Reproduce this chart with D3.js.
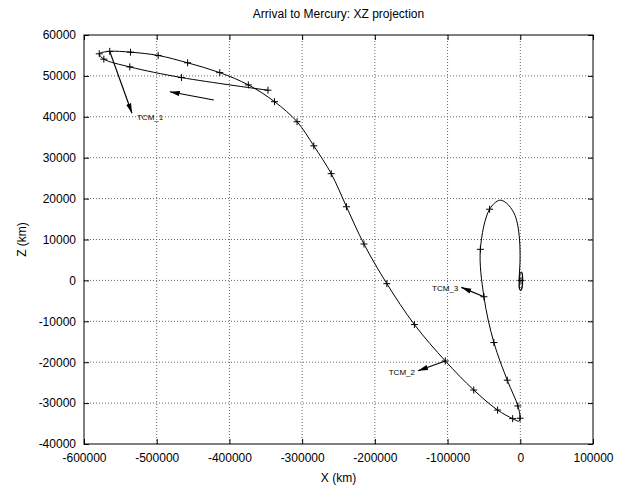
<!DOCTYPE html>
<html>
<head>
<meta charset="utf-8">
<script src="https://cdn.jsdelivr.net/npm/d3@7"></script>
<style>
  body { margin: 0; background: #fff; }
  svg text { font-family: "Liberation Sans", Arial, sans-serif; fill: #000; }
</style>
</head>
<body>
<div class="xz_area"></div>
<script>
// trajectory, in km (X, Z)
var pathX = [-347000, -466000, -537000, -572700, -579000, -564600, -536000, -498000, -457500, -413300,
             -374000, -338000, -307000, -284000, -260000, -239000, -215000, -183500, -145600, -103100,
             -64000, -31200, -10500, -2000, -300, -3300, -17900, -36300, -50000, -54900,
             -42200, -28500, -19000, -8800, -4100, -1000, -300, -1200, -1600, -900,
             1000, 2900, 3300, 1800, -300, -1300, -500, 1600, 3000, 2300, 600];
var pathZ = [46500, 49600, 52200, 54100, 55400, 56000, 55800, 55000, 53200, 50800,
             47800, 43700, 38800, 32900, 26100, 18000, 8900, -800, -10800, -19700,
             -26800, -31700, -33800, -34400, -33700, -30700, -24400, -15200, -4000, 7600,
             17400, 19600, 18900, 16500, 14000, 9900, 5000, 1800, 0, -2200,
             -2500, -1200, 800, 2100, 1600, -500, -2300, -2100, -300, 1700, 2000];

// "+" marks along the trajectory
var markX = [-347000, -466000, -537000, -572700, -579000, -564600, -536000, -498000, -457500, -413300,
             -374000, -338000, -307000, -284000, -260000, -239000, -215000, -183500, -145600, -103100,
             -64000, -31200, -10500, -300, -3300, -17900, -36300, -50000, -54900, -42200, 1000];
var markZ = [46500, 49600, 52200, 54100, 55400, 56000, 55800, 55000, 53200, 50800,
             47800, 43700, 38800, 32900, 26100, 18000, 8900, -800, -10800, -19700,
             -26800, -31700, -33800, -33700, -30700, -24400, -15200, -4000, 7600, 17400, 0];

// manoeuvre arrows
var arrowLabel = ["TCM_1", "", "TCM_2", "TCM_3"];
var arrowX0 = [-564600, -421500, -103100, -50000];
var arrowZ0 = [56000, 44100, -19700, -4000];
var arrowX1 = [-534000, -482000, -140700, -81100];
var arrowZ1 = [40850, 46130, -22100, -1700];

var xTicks = [-600000, -500000, -400000, -300000, -200000, -100000, 0, 100000];
var zTicks = [-40000, -30000, -20000, -10000, 0, 10000, 20000, 30000, 40000, 50000, 60000];

var W = 630, H = 486;
var margin = {top: 35, right: 37, bottom: 42, left: 84},
    width = W - margin.left - margin.right,
    height = H - margin.top - margin.bottom;

var svg = d3.select(".xz_area").append("svg")
    .attr("width", W)
    .attr("height", H);

var defs = svg.append("defs");
defs.append("marker")
    .attr("id", "head")
    .attr("markerUnits", "userSpaceOnUse")
    .attr("viewBox", "0 -4 10 8")
    .attr("refX", 10).attr("refY", 0)
    .attr("markerWidth", 10).attr("markerHeight", 8)
    .attr("orient", "auto")
  .append("path")
    .attr("d", "M0,-2.6L10,0L0,2.6Z")
    .attr("fill", "#000");

var g = svg.append("g")
    .attr("transform", "translate(" + margin.left + "," + margin.top + ")");

var x = d3.scaleLinear().domain([-600000, 100000]).range([0, width]);
var y = d3.scaleLinear().domain([-40000, 60000]).range([height, 0]);

// grid
g.append("g").selectAll("line")
    .data(xTicks.slice(1, -1))
    .enter().append("line")
    .attr("x1", function(d) { return x(d); })
    .attr("x2", function(d) { return x(d); })
    .attr("y1", 0).attr("y2", height)
    .attr("stroke", "#666").attr("stroke-dasharray", "1,2");
g.append("g").selectAll("line")
    .data(zTicks.slice(1, -1))
    .enter().append("line")
    .attr("y1", function(d) { return y(d); })
    .attr("y2", function(d) { return y(d); })
    .attr("x1", 0).attr("x2", width)
    .attr("stroke", "#666").attr("stroke-dasharray", "1,2");

// axes (ticks inside, mirrored)
var fmt = function(d) { return String(d); };
var xAxis = g.append("g")
    .attr("transform", "translate(0," + height + ")")
    .call(d3.axisBottom(x).tickValues(xTicks).tickFormat(fmt).tickSize(-5).tickSizeOuter(0).tickPadding(9));
var xTop = g.append("g")
    .call(d3.axisTop(x).tickValues(xTicks).tickFormat("").tickSize(-5).tickSizeOuter(0));
var yAxis = g.append("g")
    .call(d3.axisLeft(y).tickValues(zTicks).tickFormat(fmt).tickSize(-5).tickSizeOuter(0).tickPadding(8));
var yRight = g.append("g")
    .attr("transform", "translate(" + width + ",0)")
    .call(d3.axisRight(y).tickValues(zTicks).tickFormat("").tickSize(-5).tickSizeOuter(0));

g.selectAll(".domain").remove();
g.selectAll(".tick line").attr("stroke", "#000");
g.selectAll(".tick text").style("font-size", "12px");

g.append("rect")
    .attr("width", width).attr("height", height)
    .attr("fill", "none").attr("stroke", "#000").attr("stroke-width", 1);

// trajectory
var pts = pathX.map(function(d, i) { return [d, pathZ[i]]; });
var line = d3.line()
    .x(function(d) { return x(d[0]); })
    .y(function(d) { return y(d[1]); })
    .curve(d3.curveCatmullRom.alpha(0.5));

g.append("path")
    .datum(pts)
    .attr("d", line)
    .attr("fill", "none")
    .attr("stroke", "#000")
    .attr("stroke-width", 1);

var marks = markX.map(function(d, i) { return [d, markZ[i]]; });
g.append("g").selectAll("path")
    .data(marks)
    .enter().append("path")
    .attr("d", function(d) {
        var px = x(d[0]), py = y(d[1]);
        return "M" + (px - 3.5) + "," + py + "H" + (px + 3.5) + "M" + px + "," + (py - 3.5) + "V" + (py + 3.5);
    })
    .attr("stroke", "#000")
    .attr("stroke-width", 1);

// arrows
var arrows = arrowLabel.map(function(d, i) {
    return {label: d, x0: arrowX0[i], z0: arrowZ0[i], x1: arrowX1[i], z1: arrowZ1[i]};
});
g.append("g").selectAll("line")
    .data(arrows)
    .enter().append("line")
    .attr("x1", function(d) { return x(d.x0); })
    .attr("y1", function(d) { return y(d.z0); })
    .attr("x2", function(d) { return x(d.x1); })
    .attr("y2", function(d) { return y(d.z1); })
    .attr("stroke", "#000")
    .attr("stroke-width", 1.2)
    .attr("marker-end", "url(#head)");

g.append("g").selectAll("text")
    .data(arrows.filter(function(d) { return d.label; }))
    .enter().append("text")
    .attr("x", function(d, i) { return x(d.x1) + (i == 0 ? 5 : -3); })
    .attr("y", function(d, i) { return y(d.z1) + (i == 0 ? 4 : 1); })
    .attr("dy", "0.35em")
    .attr("text-anchor", function(d, i) { return i == 0 ? "start" : "end"; })
    .style("font-size", "8px")
    .text(function(d) { return d.label; });

// titles
svg.append("text")
    .attr("x", margin.left + width / 2).attr("y", 18)
    .attr("text-anchor", "middle")
    .style("font-size", "12px")
    .text("Arrival to Mercury: XZ projection");

svg.append("text")
    .attr("x", margin.left + width / 2).attr("y", 482)
    .attr("text-anchor", "middle")
    .style("font-size", "12px")
    .text("X (km)");

svg.append("text")
    .attr("transform", "translate(26," + (margin.top + height / 2) + ") rotate(-90)")
    .attr("text-anchor", "middle")
    .style("font-size", "12px")
    .text("Z (km)");
</script>
</body>
</html>
